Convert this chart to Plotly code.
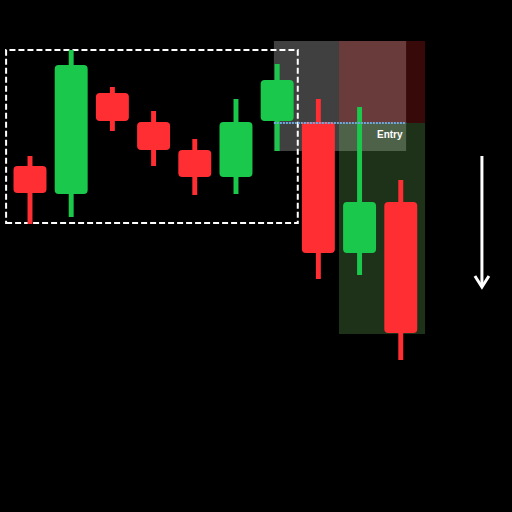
import plotly.graph_objects as go

# candle data (price units, higher = up)
idx = list(range(10))
opens = [346, 318, 419, 390, 362, 335, 391, 390, 259, 310]
closes = [319, 447, 391, 362, 335, 390, 432, 259, 310, 179]
highs = [356, 462, 425, 401, 373, 413, 448, 413, 405, 332]
lows = [288, 295, 381, 346, 317, 318, 361, 233, 237, 152]

# zone levels
entry_level = 389
zone_top = 471
target_level = 178
box_top, box_bottom = 462, 289

GREEN = '#1ac94c'
RED = '#ff2e33'

colors = [GREEN if c > o else RED for o, c in zip(opens, closes)]
body_base = [min(o, c) for o, c in zip(opens, closes)]
body_h = [abs(c - o) for o, c in zip(opens, closes)]
wick_h = [h - l for h, l in zip(highs, lows)]

fig = go.Figure()

fig.add_trace(go.Bar(x=idx, y=wick_h, base=lows, width=0.12,
                     marker=dict(color=colors, line_width=0), hoverinfo='skip'))
fig.add_trace(go.Bar(x=idx, y=body_h, base=body_base, width=0.8,
                     marker=dict(color=colors, line_width=0, cornerradius=4)))

shapes = [
    # setup box
    dict(type='rect', x0=-0.58, x1=6.5, y0=box_bottom, y1=box_top,
         line=dict(color='white', width=2, dash='6px,3px'), layer='below'),
    # entry zone
    dict(type='rect', x0=5.92, x1=9.13, y0=361, y1=zone_top,
         fillcolor='rgba(255,255,255,0.25)', line_width=0, layer='below'),
    # stop zone
    dict(type='rect', x0=7.5, x1=9.59, y0=entry_level, y1=zone_top,
         fillcolor='rgba(255,40,40,0.22)', line_width=0, layer='below'),
    # target zone
    dict(type='rect', x0=7.5, x1=9.59, y0=target_level, y1=entry_level,
         fillcolor='rgba(120,200,100,0.25)', line_width=0, layer='below'),
    # entry line
    dict(type='line', x0=5.92, x1=9.13, y0=entry_level, y1=entry_level,
         line=dict(color='#6fa8dc', width=2, dash='2px,1px')),
    # arrow
    dict(type='line', x0=10.97, x1=10.97, y0=356, y1=226,
         line=dict(color='white', width=3)),
    dict(type='path', path='M 10.80 236 L 10.97 225 L 11.14 236',
         line=dict(color='white', width=3)),
]

fig.add_annotation(x=9.1, y=entry_level - 4, text='<b>Entry</b>', showarrow=False,
                   xanchor='right', yanchor='top',
                   font=dict(color='white', size=10, family='Liberation Sans'))

fig.update_layout(
    width=512, height=512,
    margin=dict(l=0, r=0, t=0, b=0),
    paper_bgcolor='black', plot_bgcolor='black',
    showlegend=False, barmode='overlay',
    shapes=shapes,
    xaxis=dict(range=[-0.728, 11.70], visible=False, showgrid=False, zeroline=False),
    yaxis=dict(range=[0, 512], visible=False, showgrid=False, zeroline=False),
)

fig.write_html("out.html", config={'displayModeBar': False},
               post_script="document.body.style.margin='0';document.body.style.background='black';")
